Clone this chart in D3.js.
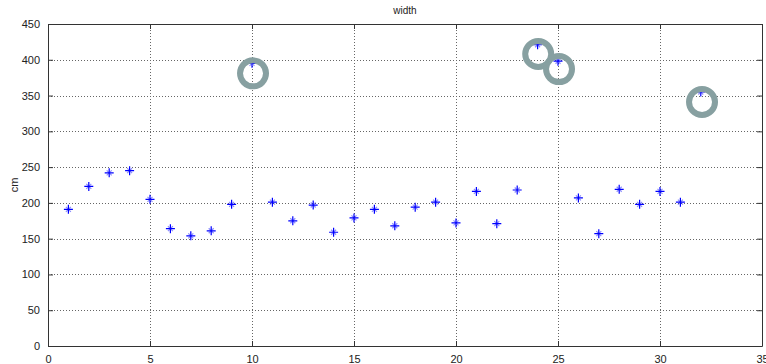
<!DOCTYPE html>
<html>
<head>
<meta charset="utf-8">
<script src="https://cdn.jsdelivr.net/npm/d3@7"></script>
<style>
  body { margin: 0; background: #fff; }
  svg { display: block; font-family: "Liberation Sans", Arial, sans-serif; }
  .grid line { stroke: #666; stroke-dasharray: 1 2; stroke-width: 1; }
</style>
</head>
<body>
<svg id="chart" width="766" height="364"></svg>
<script>
// measurement index and width (cm)
const idx = d3.range(1, 33)
const widths = [191, 223, 242, 245, 205, 164, 154, 161, 198, 395,
                201, 175, 197, 159, 179, 191, 168, 194, 201, 172,
                216, 171, 218, 421, 398, 207, 157, 219, 198, 216,
                201, 355]

// highlighted outliers (ring centres)
const ringX = [10.05, 24.03, 25.05, 32.06]
const ringY = [381, 408, 387, 341]

const xTicks = [0, 5, 10, 15, 20, 25, 30, 35]
const yTicks = [0, 50, 100, 150, 200, 250, 300, 350, 400, 450]

const svg = d3.select("#chart")
const plotL = 48, plotR = 762, plotT = 24, plotB = 346

const x = d3.scaleLinear().domain([0, 35]).range([plotL, plotR])
const y = d3.scaleLinear().domain([0, 450]).range([plotB, plotT])

// grid
const grid = svg.append("g").attr("class", "grid")
grid.selectAll(".gx").data(xTicks.slice(1, -1)).enter().append("line")
  .attr("x1", v => x(v) + 0.5).attr("x2", v => x(v) + 0.5)
  .attr("y1", plotT).attr("y2", plotB)
grid.selectAll(".gy").data(yTicks.slice(1, -1)).enter().append("line")
  .attr("y1", v => Math.round(y(v)) + 0.5).attr("y2", v => Math.round(y(v)) + 0.5)
  .attr("x1", plotL).attr("x2", plotR)

// axes, ticks pointing in (matlab style)
const xAxis = svg.append("g").attr("transform", `translate(0,${plotB})`)
  .call(d3.axisBottom(x).tickValues(xTicks).tickSizeInner(-5).tickSizeOuter(0).tickPadding(9))
const xTop = svg.append("g").attr("transform", `translate(0,${plotT})`)
  .call(d3.axisTop(x).tickValues(xTicks).tickSizeInner(-5).tickSizeOuter(0).tickFormat(""))
const yAxis = svg.append("g").attr("transform", `translate(${plotL},0)`)
  .call(d3.axisLeft(y).tickValues(yTicks).tickSizeInner(-5).tickSizeOuter(0).tickPadding(8))
const yRight = svg.append("g").attr("transform", `translate(${plotR},0)`)
  .call(d3.axisRight(y).tickValues(yTicks).tickSizeInner(-5).tickSizeOuter(0).tickFormat(""))

for (const a of [xAxis, xTop, yAxis, yRight]) {
  a.select(".domain").attr("stroke", "#333")
  a.selectAll(".tick line").attr("stroke", "#333")
  a.selectAll("text").attr("fill", "#222").style("font-size", "11px")
}

// markers: matlab '*' (strong cross, faint diagonals)
const s = 4.5, dg = 2.5
const cross = `M0,${-s}V${s}M${-s},0H${s}`
const diag = `M${-dg},${-dg}L${dg},${dg}M${-dg},${dg}L${dg},${-dg}`
const marks = svg.append("g").selectAll("g").data(idx).enter().append("g")
  .attr("transform", (v, i) => `translate(${x(v)},${y(widths[i])})`)
marks.append("path").attr("d", diag)
  .attr("stroke", "#0000ff").attr("stroke-opacity", 0.45).attr("stroke-width", 1.2).attr("fill", "none")
marks.append("path").attr("d", cross)
  .attr("stroke", "#0000ff").attr("stroke-width", 1.2).attr("fill", "none")

// outlier rings
svg.append("g").selectAll("circle").data(ringX).enter().append("circle")
  .attr("cx", v => x(v)).attr("cy", (v, i) => y(ringY[i]))
  .attr("r", 13)
  .attr("fill", "none").attr("stroke", "#87a0a1").attr("stroke-width", 6)

// labels
svg.append("text").attr("x", (plotL + plotR) / 2).attr("y", 14)
  .attr("text-anchor", "middle").style("font-size", "10px").attr("fill", "#222")
  .text("width")
svg.append("text").attr("transform", `translate(18,${(plotT + plotB) / 2}) rotate(-90)`)
  .attr("text-anchor", "middle").style("font-size", "11px").attr("fill", "#222")
  .text("cm")
</script>
</body>
</html>
